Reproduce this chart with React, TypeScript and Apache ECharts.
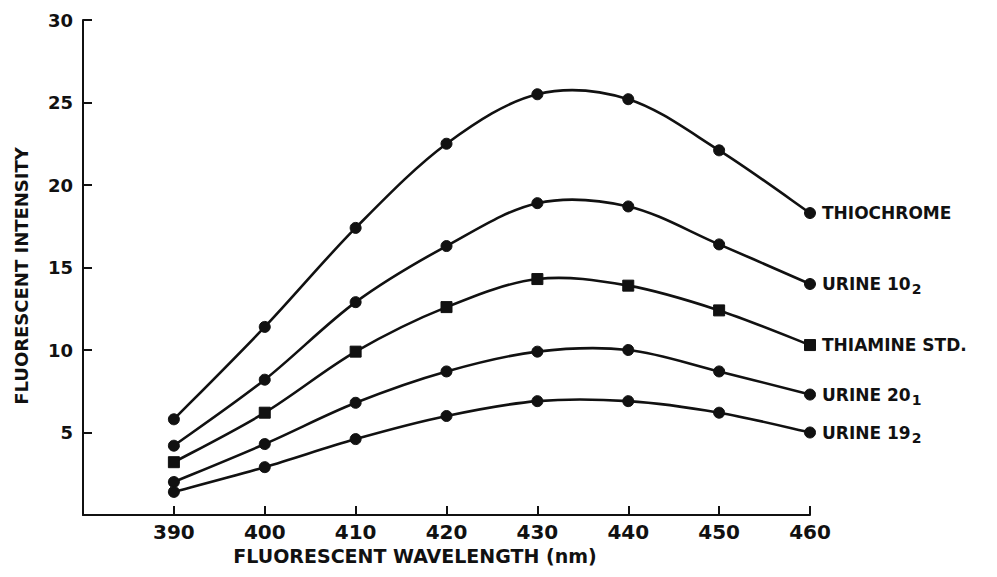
import React, { useEffect, useRef } from "react";
import * as echarts from "echarts";

const wavelengths = [390, 400, 410, 420, 430, 440, 450, 460];
const thiochrome = [5.8, 11.4, 17.4, 22.5, 25.5, 25.2, 22.1, 18.3];
const urine10_2 = [4.2, 8.2, 12.9, 16.3, 18.9, 18.7, 16.4, 14.0];
const thiamineStd = [3.2, 6.2, 9.9, 12.6, 14.3, 13.9, 12.4, 10.3];
const urine20_1 = [2.0, 4.3, 6.8, 8.7, 9.9, 10.0, 8.7, 7.3];
const urine19_2 = [1.4, 2.9, 4.6, 6.0, 6.9, 6.9, 6.2, 5.0];

const seriesNames = ["THIOCHROME", "URINE 10_2", "THIAMINE STD.", "URINE 20_1", "URINE 19_2"];
const seriesLabels = [
  "{m|THIOCHROME}",
  "{m|URINE 10}{s|2}",
  "{m|THIAMINE STD.}",
  "{m|URINE 20}{s|1}",
  "{m|URINE 19}{s|2}",
];
const seriesSymbols = ["circle", "circle", "rect", "circle", "circle"];
const seriesValues = [thiochrome, urine10_2, thiamineStd, urine20_1, urine19_2];

const xTitle = "FLUORESCENT WAVELENGTH (nm)";
const yTitle = "FLUORESCENT INTENSITY";

const FONT = '"DejaVu Sans", sans-serif';
const INK = "#111";

export default function App() {
  const ref = useRef<HTMLDivElement>(null);
  useEffect(() => {
    if (!ref.current) return;
    const chart = echarts.init(ref.current, null, { renderer: "svg" });

    const markerSeries = seriesValues.map((vals, i) => ({
      name: seriesNames[i],
      type: "line",
      data: vals.map((v, j) => [wavelengths[j], v]),
      symbol: seriesSymbols[i],
      symbolSize: 11,
      showAllSymbol: true,
      lineStyle: { opacity: 0, width: 0 },
      itemStyle: { color: INK, borderColor: INK },
      endLabel: {
        show: true,
        distance: 12,
        formatter: seriesLabels[i],
        rich: {
          m: { fontFamily: FONT, fontWeight: "bold", fontSize: 17, color: INK },
          s: {
            fontFamily: FONT,
            fontWeight: "bold",
            fontSize: 14,
            color: INK,
            padding: [10, 0, 0, 1],
          },
        },
      },
      emphasis: { disabled: true },
      z: 4,
    }));

    const curveSeries = seriesValues.map((vals, i) => ({
      name: seriesNames[i] + " curve",
      type: "custom",
      data: vals.slice(0, -1).map((v, j) => [wavelengths[j], v]),
      encode: { x: 0, y: 1 },
      silent: true,
      z: 2,
      renderItem: (params: any, api: any) => {
        const k = params.dataIndex;
        const n = vals.length;
        const pt = (idx: number) => {
          const c = Math.max(0, Math.min(n - 1, idx));
          return api.coord([wavelengths[c], vals[c]]);
        };
        const p0 = pt(k - 1);
        const p1 = pt(k);
        const p2 = pt(k + 1);
        const p3 = pt(k + 2);
        const t = 1 / 6;
        return {
          type: "bezierCurve",
          shape: {
            x1: p1[0],
            y1: p1[1],
            x2: p2[0],
            y2: p2[1],
            cpx1: p1[0] + (p2[0] - p0[0]) * t,
            cpy1: p1[1] + (p2[1] - p0[1]) * t,
            cpx2: p2[0] - (p3[0] - p1[0]) * t,
            cpy2: p2[1] - (p3[1] - p1[1]) * t,
          },
          style: { stroke: INK, lineWidth: 2.6, fill: "none" },
        };
      },
    }));

    chart.setOption({
      animation: false,
      backgroundColor: "#fff",
      grid: { left: 83, right: 187, top: 20, bottom: 62, containLabel: false },
      xAxis: {
        type: "value",
        min: 380,
        max: 460,
        interval: 10,
        axisLine: { show: true, lineStyle: { color: INK, width: 2 } },
        axisTick: { show: true, inside: true, length: 9, lineStyle: { color: INK, width: 2 } },
        axisLabel: {
          margin: 7,
          color: INK,
          fontFamily: FONT,
          fontWeight: "bold",
          fontSize: 20,
          formatter: (v: number) => (v === 380 ? "" : String(v)),
        },
        splitLine: { show: false },
      },
      yAxis: {
        type: "value",
        min: 0,
        max: 30,
        interval: 5,
        axisLine: { show: true, lineStyle: { color: INK, width: 2 } },
        axisTick: { show: true, inside: true, length: 9, lineStyle: { color: INK, width: 2 } },
        axisLabel: {
          margin: 10,
          color: INK,
          fontFamily: FONT,
          fontWeight: "bold",
          fontSize: 18,
          formatter: (v: number) => (v === 0 ? "" : String(v)),
        },
        splitLine: { show: false },
      },
      graphic: [
        {
          type: "text",
          x: 21,
          y: 276,
          rotation: Math.PI / 2,
          style: {
            text: yTitle,
            fontFamily: FONT,
            fontWeight: "bold",
            fontSize: 18,
            fill: INK,
            align: "center",
            verticalAlign: "middle",
          },
        },
        {
          type: "text",
          x: 415,
          y: 556,
          style: {
            text: xTitle,
            fontFamily: FONT,
            fontWeight: "bold",
            fontSize: 19,
            fill: INK,
            align: "center",
            verticalAlign: "middle",
          },
        },
      ],
      series: [...curveSeries, ...markerSeries],
    });
    return () => chart.dispose();
  }, []);
  return (
    <div
      ref={ref}
      style={{ position: "fixed", left: 0, top: 0, width: 997, height: 577, background: "#fff" }}
    />
  );
}
